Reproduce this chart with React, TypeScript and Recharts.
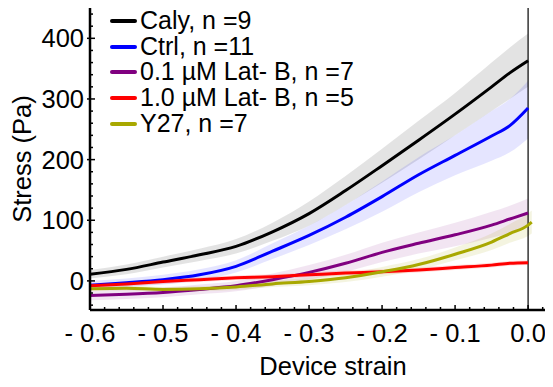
import {
    ComposedChart,
    Line,
    Area,
    XAxis,
    YAxis,
    Legend,
    ReferenceLine,
} from "recharts";

const FONT = '"Liberation Sans", Arial, sans-serif';

// device strain (x) for every sampled point
const strain = [-0.6, -0.55, -0.5, -0.45, -0.4, -0.35, -0.3, -0.25, -0.2, -0.15, -0.1, -0.05, -0.025, 0, 0.005];

// stress (Pa), mean and shaded band for each group
const calyMean = [11, 19, 31, 43, 57, 81, 111, 149, 190, 232, 275, 320, 343, 363, null];
const calyLow = [4, 11, 22, 33, 45, 66, 91, 125, 162, 200, 240, 280, 300, 320, null];
const calyHigh = [18, 27, 40, 53, 69, 96, 131, 173, 218, 264, 310, 360, 385, 408, null];

const ctrlMean = [-7, -3, 2, 10, 24, 49, 75, 105, 139, 175, 207, 239, 256, 285, null];
const ctrlLow = [-14, -10, -6, 1, 14, 36, 59, 85, 114, 146, 174, 198, 212, 235, null];
const ctrlHigh = [0, 4, 10, 19, 34, 62, 91, 125, 164, 204, 240, 280, 300, 330, null];

const latB01Mean = [-24, -22, -19, -14, -8, 2, 14, 29, 47, 62, 76, 92, 102, 112, null];
const latB01Low = [-32, -30, -27, -22, -17, -8, 2, 15, 31, 45, 57, 71, 79, 88, null];
const latB01High = [-16, -14, -11, -6, 0, 12, 26, 43, 63, 80, 96, 114, 124, 136, null];

const latB10Mean = [-8, -5, -1, 2, 5, 7, 10, 13, 15, 18, 22, 26, 29, 30, null];
const latB10Low = [-12, -9, -5, -2, 1, 3, 6, 9, 11, 14, 18, 22, 25, 26, null];
const latB10High = [-4, -1, 3, 6, 9, 11, 14, 17, 19, 22, 26, 30, 33, 34, null];

const y27Mean = [-13, -12, -14, -13, -10, -5, -1, 5, 15, 27, 44, 64, 78, 92, 97];
const y27Low = [-17, -16, -18, -17, -15, -10, -7, -2, 7, 18, 34, 51, 63, 74, 78];
const y27High = [-9, -8, -10, -9, -5, 0, 5, 12, 23, 36, 55, 78, 94, 111, 116];

const seriesNames = ["Caly, n =9", "Ctrl, n =11", "0.1 \u00b5M Lat- B, n =7", "1.0 \u00b5M Lat- B, n =5", "Y27, n =7"];

// axis ticks (major ones get labels)
const xTicks = [
    -0.6, -0.58, -0.56, -0.54, -0.52, -0.5, -0.48, -0.46, -0.44, -0.42, -0.4, -0.38, -0.36, -0.34, -0.32, -0.3,
    -0.28, -0.26, -0.24, -0.22, -0.2, -0.18, -0.16, -0.14, -0.12, -0.1, -0.08, -0.06, -0.04, -0.02, 0, 0.02,
];
const xMajor = [-0.6, -0.5, -0.4, -0.3, -0.2, -0.1, 0];
const yTicks = [-40, -20, 0, 20, 40, 60, 80, 100, 120, 140, 160, 180, 200, 220, 240, 260, 280, 300, 320, 340, 360, 380, 400, 420, 440];
const yMajor = [0, 100, 200, 300, 400];

const band = (lo: (number | null)[], hi: (number | null)[], i: number) =>
    lo[i] == null || hi[i] == null ? null : [lo[i], hi[i]];

const data = strain.map((x, i) => ({
    x,
    caly: calyMean[i],
    ctrl: ctrlMean[i],
    latB01: latB01Mean[i],
    latB10: latB10Mean[i],
    y27: y27Mean[i],
    calyBand: band(calyLow, calyHigh, i),
    ctrlBand: band(ctrlLow, ctrlHigh, i),
    latB01Band: band(latB01Low, latB01High, i),
    latB10Band: band(latB10Low, latB10High, i),
    y27Band: band(y27Low, y27High, i),
}));

const isMajor = (list: number[], v: number) => list.some((m) => Math.abs(m - v) < 1e-6);

const formatX = (v: number) => (Math.abs(v) < 1e-9 ? "0.0" : "- " + Math.abs(v).toFixed(1));

const XTick = (props: any) => {
    const { x, y, payload } = props;
    const major = isMajor(xMajor, payload.value);
    return (
        <g>
            <line x1={x} x2={x} y1={y} y2={y - (major ? 5 : 3)} stroke="#000" strokeWidth={1.5} />
            {major && (
                <text x={x} y={y + 14} dy="0.71em" textAnchor="middle" fontSize={25.5} fontFamily={FONT} fill="#000">
                    {formatX(payload.value)}
                </text>
            )}
        </g>
    );
};

const YTick = (props: any) => {
    const { x, y, payload } = props;
    const major = isMajor(yMajor, payload.value);
    return (
        <g>
            <line x1={major ? x - 3 : x} x2={x + (major ? 5 : 3)} y1={y} y2={y} stroke="#000" strokeWidth={1.5} />
            {major && (
                <text x={x - 6} y={y} dy="0.355em" textAnchor="end" fontSize={25.5} fontFamily={FONT} fill="#000">
                    {payload.value}
                </text>
            )}
        </g>
    );
};

const LegendBox = (props: any) => {
    const items = (props.payload || [])
        .filter((p: any) => seriesNames.includes(p.value))
        .sort((a: any, b: any) => seriesNames.indexOf(a.value) - seriesNames.indexOf(b.value));
    return (
        <div style={{ fontFamily: FONT, fontSize: 25, lineHeight: "25.7px" }}>
            {items.map((p: any) => (
                <div key={p.value} style={{ display: "flex", alignItems: "center", height: 25.7, whiteSpace: "nowrap" }}>
                    <div style={{ width: 27, height: 4, borderRadius: 2, background: p.color, marginRight: 3 }} />
                    <span>{p.value}</span>
                </div>
            ))}
        </div>
    );
};

const StressStrainChart = () => {
    return (
        <div style={{ width: 545, height: 379 }}>
            <ComposedChart width={545} height={379} data={data} margin={{ top: 0, right: 3, bottom: 0, left: 0 }}>
                <XAxis
                    dataKey="x"
                    type="number"
                    domain={[-0.6, 0.03]}
                    allowDataOverflow
                    ticks={xTicks}
                    interval={0}
                    tick={<XTick />}
                    tickLine={false}
                    tickSize={0}
                    tickMargin={0}
                    height={77}
                    axisLine={{ stroke: "#000", strokeWidth: 2.5 }}
                    label={{
                        content: (p: any) => {
                            const vb = p.viewBox;
                            return (
                                <text
                                    x={vb.x + vb.width / 2 + 13}
                                    y={vb.y + vb.height - 12}
                                    textAnchor="middle"
                                    fontSize={25.5}
                                    fontFamily={FONT}
                                    fill="#000"
                                >
                                    Device strain
                                </text>
                            );
                        },
                    }}
                />
                <YAxis
                    type="number"
                    domain={[-48, 450]}
                    allowDataOverflow
                    ticks={yTicks}
                    interval={0}
                    tick={<YTick />}
                    tickLine={false}
                    tickSize={0}
                    tickMargin={0}
                    width={82}
                    axisLine={{ stroke: "#000", strokeWidth: 2.5 }}
                    label={{
                        content: (p: any) => {
                            const vb = p.viewBox;
                            const cx = vb.x + 14;
                            const cy = vb.y + vb.height / 2;
                            return (
                                <text
                                    x={cx}
                                    y={cy}
                                    dy="0.355em"
                                    textAnchor="middle"
                                    transform={`rotate(-90, ${cx}, ${cy})`}
                                    fontSize={25.5}
                                    fontFamily={FONT}
                                    fill="#000"
                                >
                                    Stress (Pa)
                                </text>
                            );
                        },
                    }}
                />
                <Legend
                    layout="vertical"
                    align="center"
                    verticalAlign="middle"
                    content={<LegendBox />}
                    wrapperStyle={{ left: 102, top: 0, width: 320 }}
                />

                <Area dataKey="calyBand" type="monotone" stroke="none" fill="#000000" fillOpacity={0.11} legendType="none" isAnimationActive={false} />
                <Area dataKey="ctrlBand" type="monotone" stroke="none" fill="#0000ff" fillOpacity={0.1} legendType="none" isAnimationActive={false} />
                <Area dataKey="latB01Band" type="monotone" stroke="none" fill="#800080" fillOpacity={0.1} legendType="none" isAnimationActive={false} />
                <Area dataKey="latB10Band" type="monotone" stroke="none" fill="#ff0000" fillOpacity={0.12} legendType="none" isAnimationActive={false} />
                <Area dataKey="y27Band" type="monotone" stroke="none" fill="#a8a800" fillOpacity={0.12} legendType="none" isAnimationActive={false} />

                <ReferenceLine x={0} stroke="#000" strokeWidth={1.2} />

                <Line dataKey="caly" name={seriesNames[0]} type="monotone" stroke="#000000" strokeWidth={3} dot={false} isAnimationActive={false} />
                <Line dataKey="ctrl" name={seriesNames[1]} type="monotone" stroke="#0000ff" strokeWidth={3} dot={false} isAnimationActive={false} />
                <Line dataKey="latB01" name={seriesNames[2]} type="monotone" stroke="#800080" strokeWidth={3} dot={false} isAnimationActive={false} />
                <Line dataKey="latB10" name={seriesNames[3]} type="monotone" stroke="#ff0000" strokeWidth={3} dot={false} isAnimationActive={false} />
                <Line dataKey="y27" name={seriesNames[4]} type="monotone" stroke="#a8a800" strokeWidth={3} dot={false} isAnimationActive={false} />
            </ComposedChart>
        </div>
    );
};

export default function App() {
    return <StressStrainChart />;
}
